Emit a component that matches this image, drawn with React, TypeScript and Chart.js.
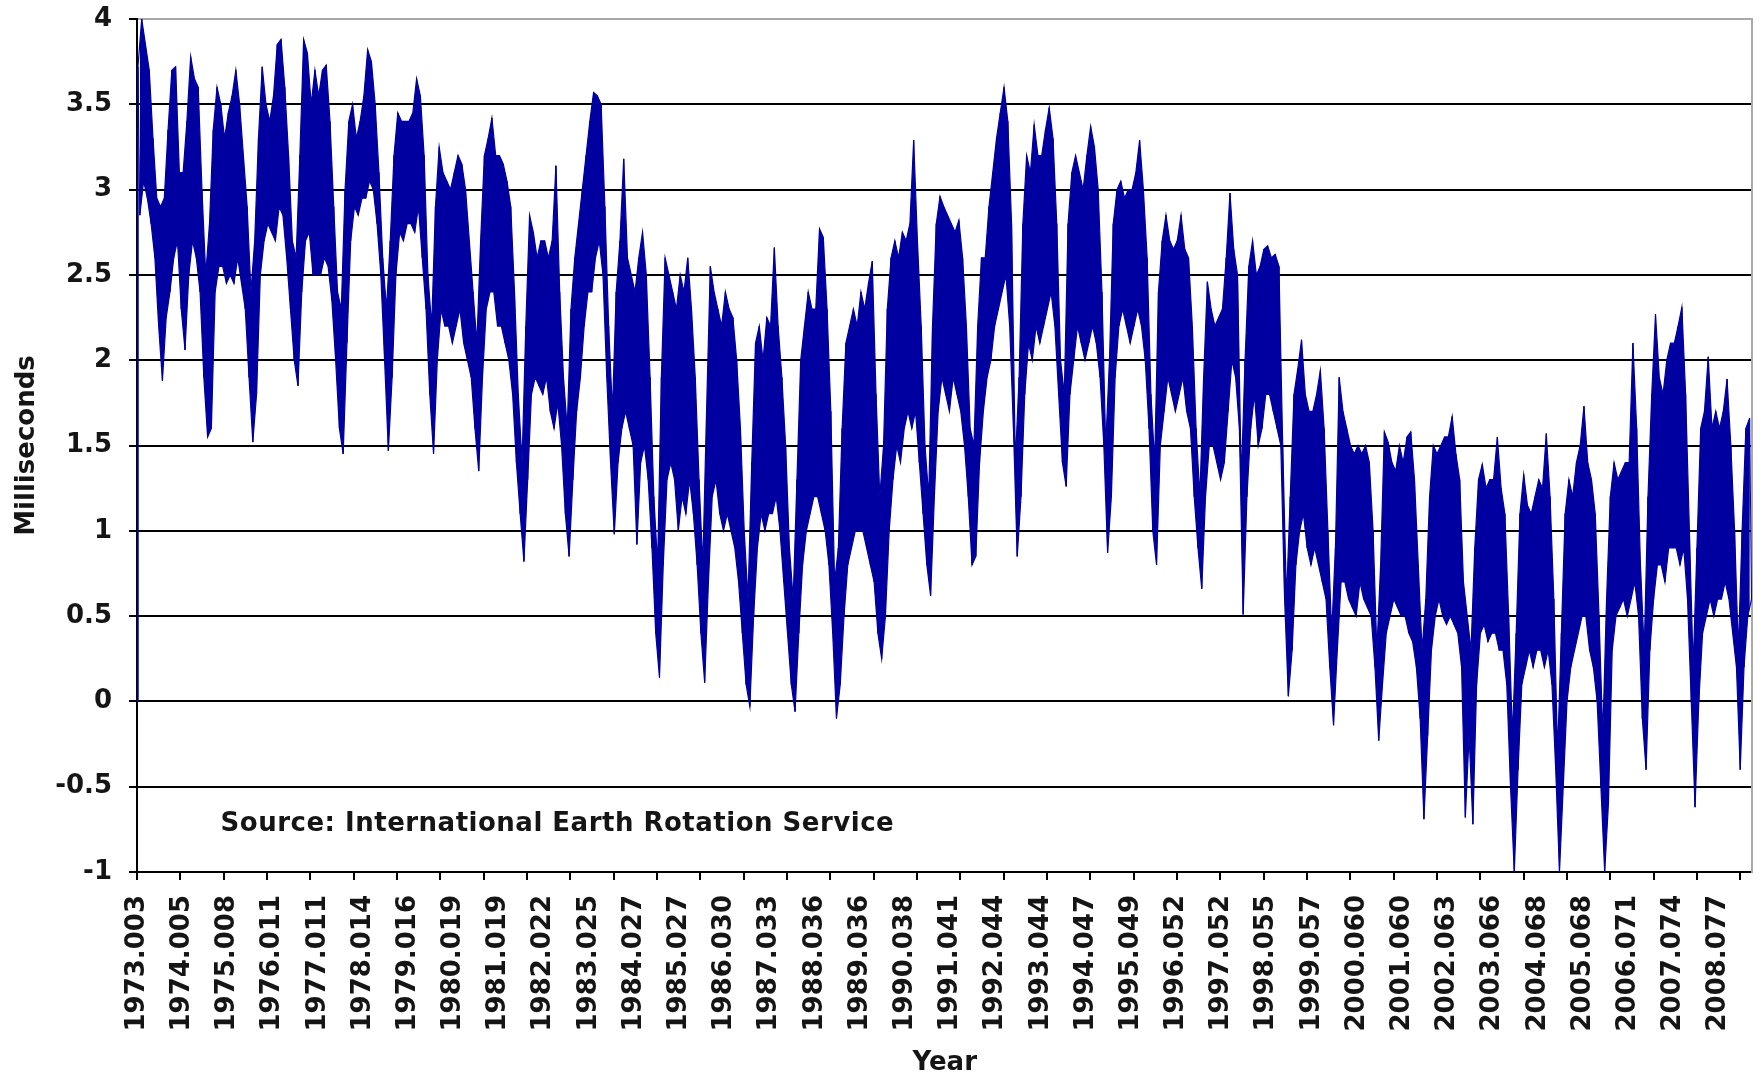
import { useEffect, useRef } from 'react';
import { Chart, registerables } from 'chart.js';

Chart.register(...registerables);

// Tick labels of the category-style x axis (one per label interval)
const tickLabels = [
  '1973.003', '1974.005', '1975.008', '1976.011', '1977.011', '1978.014', '1979.016',
  '1980.019', '1981.019', '1982.022', '1983.025', '1984.027', '1985.027', '1986.030',
  '1987.033', '1988.036', '1989.036', '1990.038', '1991.041', '1992.044', '1993.044',
  '1994.047', '1995.049', '1996.052', '1997.052', '1998.055', '1999.057', '2000.060',
  '2001.060', '2002.063', '2003.066', '2004.068', '2005.068', '2006.071', '2007.074',
  '2008.077',
];

// Excess length of day (ms). Alternating the upper and
// lower edge of the band, 24 readings per label interval.
const firstValue = 0;
const y1973 = [3.72, 2.85, 4.0, 3.05, 3.85, 2.95, 3.7, 2.8, 3.3, 2.6, 2.95, 2.2, 2.9, 1.88, 2.95, 2.25, 3.35, 2.4, 3.7, 2.6, 3.72, 2.7, 3.1, 2.3];
const y1974 = [3.1, 2.06, 3.4, 2.5, 3.78, 2.7, 3.65, 2.6, 3.6, 2.4, 3.0, 1.9, 2.5, 1.55, 2.8, 1.6, 3.35, 2.4, 3.6, 2.55, 3.5, 2.55, 3.3, 2.45];
const y1975 = [3.45, 2.5, 3.55, 2.45, 3.7, 2.6, 3.5, 2.45, 3.2, 2.3, 2.9, 1.9, 2.4, 1.52, 2.7, 1.8, 3.3, 2.5, 3.72, 2.7, 3.5, 2.8, 3.4, 2.75];
const y1976 = [3.55, 2.7, 3.85, 2.9, 3.88, 2.85, 3.6, 2.6, 3.2, 2.3, 2.7, 2.0, 2.6, 1.85, 3.2, 2.4, 3.88, 2.7, 3.8, 2.75, 3.5, 2.5, 3.7, 2.5];
const y1977 = [3.55, 2.5, 3.7, 2.6, 3.73, 2.55, 3.4, 2.35, 2.9, 2.0, 2.4, 1.6, 2.3, 1.45, 3.0, 2.1, 3.4, 2.7, 3.5, 2.9, 3.3, 2.85, 3.4, 2.95];
const y1978 = [3.55, 2.95, 3.82, 3.05, 3.75, 3.0, 3.5, 2.8, 3.1, 2.5, 2.6, 2.0, 2.3, 1.47, 2.7, 1.9, 3.2, 2.5, 3.45, 2.75, 3.4, 2.7, 3.4, 2.8];
const y1979 = [3.4, 2.8, 3.45, 2.75, 3.65, 2.9, 3.55, 2.6, 3.2, 2.3, 2.5, 1.8, 2.2, 1.45, 2.9, 2.0, 3.25, 2.3, 3.1, 2.2, 3.05, 2.2, 3.0, 2.1];
const y1980 = [3.1, 2.2, 3.2, 2.3, 3.15, 2.1, 3.0, 2.0, 2.7, 1.9, 2.4, 1.6, 2.1, 1.35, 2.7, 1.9, 3.2, 2.3, 3.3, 2.4, 3.42, 2.4, 3.2, 2.2];
const y1981 = [3.2, 2.2, 3.15, 2.1, 3.05, 2.0, 2.9, 1.8, 2.4, 1.4, 1.8, 1.1, 1.4, 0.82, 2.2, 1.3, 2.85, 1.8, 2.75, 1.9, 2.6, 1.85, 2.7, 1.8];
const y1982 = [2.7, 1.9, 2.6, 1.7, 2.7, 1.6, 3.14, 1.75, 2.4, 1.5, 1.9, 1.1, 1.6, 0.85, 2.3, 1.3, 2.6, 1.7, 2.8, 1.9, 3.0, 2.2, 3.2, 2.4];
const y1983 = [3.4, 2.4, 3.57, 2.6, 3.55, 2.7, 3.5, 2.5, 2.9, 1.9, 2.2, 1.4, 1.7, 0.98, 2.4, 1.4, 2.7, 1.6, 3.18, 1.7, 2.6, 1.6, 2.5, 1.5];
const y1984 = [2.4, 0.92, 2.6, 1.4, 2.75, 1.5, 2.5, 1.3, 1.9, 0.9, 1.2, 0.4, 0.8, 0.14, 1.9, 0.8, 2.6, 1.3, 2.5, 1.4, 2.4, 1.3, 2.3, 1.0];
const y1985 = [2.5, 1.2, 2.4, 1.1, 2.6, 1.3, 2.3, 1.1, 1.9, 0.8, 1.3, 0.4, 0.8, 0.11, 1.7, 0.7, 2.55, 1.2, 2.4, 1.3, 2.3, 1.1, 2.2, 1.0];
const y1986 = [2.4, 1.1, 2.3, 1.0, 2.25, 0.9, 2.0, 0.7, 1.6, 0.4, 1.0, 0.1, 0.6, -0.03, 1.4, 0.5, 2.1, 0.9, 2.2, 1.1, 2.0, 1.0, 2.25, 1.1];
const y1987 = [2.2, 1.1, 2.66, 1.2, 2.2, 1.0, 1.9, 0.7, 1.5, 0.4, 0.9, 0.1, 0.6, -0.06, 1.3, 0.4, 2.0, 0.8, 2.2, 1.0, 2.4, 1.1, 2.3, 1.2];
const y1988 = [2.3, 1.2, 2.77, 1.1, 2.72, 1.0, 2.3, 0.8, 1.7, 0.4, 0.7, -0.1, 0.9, 0.1, 1.6, 0.5, 2.1, 0.8, 2.2, 0.9, 2.3, 1.0, 2.2, 1.0];
const y1989 = [2.4, 1.0, 2.3, 0.9, 2.45, 0.8, 2.58, 0.7, 1.8, 0.4, 1.2, 0.25, 1.5, 0.5, 2.3, 1.0, 2.6, 1.3, 2.7, 1.5, 2.6, 1.4, 2.75, 1.6];
const y1990 = [2.7, 1.7, 2.8, 1.6, 3.29, 1.7, 2.7, 1.4, 2.2, 1.1, 1.5, 0.8, 1.2, 0.62, 2.2, 1.2, 2.8, 1.7, 2.96, 1.9, 2.9, 1.8, 2.85, 1.7];
const y1991 = [2.8, 1.9, 2.75, 1.8, 2.82, 1.7, 2.6, 1.5, 2.2, 1.2, 1.6, 0.8, 1.5, 0.85, 2.2, 1.4, 2.6, 1.7, 2.6, 1.9, 2.9, 2.0, 3.1, 2.2];
const y1992 = [3.3, 2.3, 3.45, 2.4, 3.6, 2.5, 3.4, 2.2, 2.8, 1.6, 1.4, 0.85, 1.9, 1.2, 2.8, 1.8, 3.2, 2.1, 3.1, 2.0, 3.38, 2.2, 3.2, 2.1];
const y1993 = [3.2, 2.2, 3.35, 2.3, 3.48, 2.4, 3.3, 2.2, 2.8, 1.8, 2.0, 1.4, 1.8, 1.26, 2.8, 1.8, 3.1, 2.0, 3.2, 2.2, 3.1, 2.1, 3.0, 2.0];
const y1994 = [3.2, 2.1, 3.37, 2.2, 3.25, 2.1, 3.0, 1.9, 2.4, 1.5, 1.5, 0.87, 2.0, 1.2, 2.8, 1.9, 3.0, 2.2, 3.05, 2.3, 2.95, 2.2, 3.0, 2.1];
const y1995 = [3.0, 2.2, 3.1, 2.3, 3.29, 2.2, 3.0, 2.0, 2.6, 1.6, 1.8, 1.0, 1.4, 0.8, 2.4, 1.5, 2.7, 1.7, 2.85, 1.9, 2.7, 1.8, 2.65, 1.7];
const y1996 = [2.7, 1.8, 2.85, 1.9, 2.65, 1.7, 2.6, 1.6, 2.2, 1.2, 1.6, 0.9, 1.2, 0.66, 1.9, 1.2, 2.46, 1.5, 2.3, 1.5, 2.2, 1.4, 2.25, 1.3];
const y1997 = [2.3, 1.4, 2.6, 1.7, 2.98, 2.0, 2.65, 1.9, 2.5, 1.6, 1.3, 0.51, 2.0, 1.2, 2.55, 1.6, 2.7, 1.8, 2.5, 1.5, 2.55, 1.6, 2.65, 1.8];
const y1998 = [2.67, 1.8, 2.6, 1.7, 2.62, 1.6, 2.55, 1.5, 1.5, 0.6, 0.6, 0.03, 1.2, 0.3, 1.8, 0.8, 1.95, 1.0, 2.12, 1.1, 1.8, 0.9, 1.7, 0.8];
const y1999 = [1.7, 0.9, 1.8, 0.8, 1.94, 0.7, 1.6, 0.6, 1.0, 0.2, 0.4, -0.14, 0.9, 0.3, 1.9, 0.7, 1.7, 0.7, 1.6, 0.6, 1.5, 0.55, 1.45, 0.5];
const y2000 = [1.5, 0.7, 1.45, 0.6, 1.5, 0.55, 1.4, 0.5, 1.0, 0.2, 0.3, -0.23, 0.8, 0.1, 1.58, 0.4, 1.52, 0.5, 1.4, 0.6, 1.35, 0.55, 1.5, 0.5];
const y2001 = [1.4, 0.5, 1.55, 0.4, 1.58, 0.35, 1.3, 0.2, 0.8, -0.1, 0.3, -0.69, 0.6, -0.2, 1.2, 0.3, 1.5, 0.5, 1.45, 0.6, 1.5, 0.5, 1.55, 0.45];
const y2002 = [1.55, 0.5, 1.67, 0.45, 1.45, 0.4, 1.3, 0.2, 0.7, -0.68, 0.5, -0.2, 0.3, -0.72, 0.9, 0.1, 1.3, 0.4, 1.39, 0.45, 1.25, 0.35, 1.3, 0.4];
const y2003 = [1.3, 0.4, 1.55, 0.3, 1.25, 0.3, 1.1, 0.1, 0.5, -0.5, -0.2, -1.0, 0.4, -0.4, 1.1, 0.1, 1.33, 0.2, 1.15, 0.3, 1.1, 0.2, 1.2, 0.3];
const y2004 = [1.3, 0.3, 1.25, 0.2, 1.57, 0.3, 1.2, 0.1, 0.6, -0.4, -0.3, -1.0, 0.4, -0.5, 1.1, 0.0, 1.3, 0.2, 1.2, 0.3, 1.4, 0.4, 1.5, 0.5];
const y2005 = [1.73, 0.5, 1.4, 0.3, 1.3, 0.2, 1.1, 0.0, 0.5, -0.5, -0.2, -1.0, 0.6, -0.6, 1.2, 0.3, 1.4, 0.5, 1.3, 0.55, 1.35, 0.6, 1.4, 0.5];
const y2006 = [1.4, 0.6, 2.1, 0.7, 1.6, 0.5, 0.8, -0.1, 0.3, -0.4, 1.2, 0.3, 1.8, 0.6, 2.27, 0.8, 1.9, 0.8, 1.8, 0.7, 2.0, 0.9, 2.1, 0.9];
const y2007 = [2.1, 0.9, 2.2, 0.8, 2.31, 0.9, 1.8, 0.6, 1.0, 0.0, 0.2, -0.62, 0.9, 0.0, 1.6, 0.4, 1.7, 0.5, 2.02, 0.6, 1.6, 0.5, 1.7, 0.6];
const y2008 = [1.6, 0.6, 1.7, 0.7, 1.89, 0.6, 1.5, 0.4, 1.0, 0.2, 0.3, -0.4, 1.0, 0.2, 1.6, 0.5, 1.66, 0.6];

const yearSeries = [
  y1973, y1974, y1975, y1976, y1977, y1978, y1979, y1980, y1981, y1982, y1983, y1984,
  y1985, y1986, y1987, y1988, y1989, y1990, y1991, y1992, y1993, y1994, y1995, y1996,
  y1997, y1998, y1999, y2000, y2001, y2002, y2003, y2004, y2005, y2006, y2007, y2008,
];

const pointsPerInterval = 24;
const xMax = 35.75; // axis extent, in label intervals
const tickMarkStep = 0.9589; // tick marks are a little closer together than the labels
const sourceText = 'Source: International Earth Rotation Service';
const sourceAt = { x: 1.85, y: -0.72 };

const FONT_FAMILY = '"DejaVu Sans", Verdana, sans-serif';
const TEXT_COLOR = '#151515';
const SERIES_COLOR = '#0000a0';

export default function App() {
  const canvasRef = useRef<HTMLCanvasElement | null>(null);

  useEffect(() => {
    const canvas = canvasRef.current;
    if (!canvas) return;

    // Upper edge readings (even positions) and lower edge readings (odd positions)
    const upper: { x: number; y: number }[] = [{ x: 0, y: firstValue }];
    const lower: { x: number; y: number }[] = [];
    const zigzag: { x: number; y: number }[] = [{ x: 0, y: firstValue }];
    yearSeries.forEach((arr, k) => {
      arr.forEach((v, j) => {
        const p = { x: k + (j + 0.5) / pointsPerInterval, y: v };
        (j % 2 === 0 ? upper : lower).push(p);
        zigzag.push(p);
      });
    });

    const font = { family: FONT_FAMILY, size: 26, weight: 'bold' as const };

    const sourcePlugin = {
      id: 'sourceNote',
      afterDatasetsDraw(chart: any) {
        const { ctx, scales } = chart;
        ctx.save();
        ctx.font = `bold 26px ${FONT_FAMILY}`;
        ctx.fillStyle = TEXT_COLOR;
        ctx.textAlign = 'left';
        ctx.textBaseline = 'middle';
        try {
          (ctx as any).letterSpacing = '0.5px';
        } catch (e) {
          /* ignore */
        }
        ctx.fillText(
          sourceText,
          scales.x.getPixelForValue(sourceAt.x),
          scales.y.getPixelForValue(sourceAt.y)
        );
        ctx.restore();
      },
    };

    const noPad = (s: any) => {
      s.paddingTop = 0;
      s.paddingBottom = 0;
    };

    const chart = new Chart(canvas, {
      type: 'line',
      data: {
        datasets: [
          {
            label: 'upper',
            data: upper,
            borderColor: SERIES_COLOR,
            borderWidth: 1.2,
            pointRadius: 0,
            tension: 0,
            fill: false,
            xAxisID: 'x',
            yAxisID: 'y',
          },
          {
            label: 'lower',
            data: lower,
            borderColor: SERIES_COLOR,
            backgroundColor: SERIES_COLOR,
            borderWidth: 1.2,
            pointRadius: 0,
            tension: 0,
            fill: '-1',
            xAxisID: 'x',
            yAxisID: 'y',
          },
          {
            label: 'daily',
            data: zigzag,
            borderColor: SERIES_COLOR,
            borderWidth: 1,
            pointRadius: 0,
            tension: 0,
            fill: false,
            xAxisID: 'x',
            yAxisID: 'y',
          },
        ],
      },
      options: {
        animation: false,
        responsive: false,
        maintainAspectRatio: false,
        parsing: false,
        layout: { padding: { left: 0, top: 19, right: 0, bottom: 0 } },
        plugins: {
          legend: { display: false },
          tooltip: { enabled: false },
          title: { display: false },
        },
        scales: {
          x: {
            type: 'linear',
            position: 'bottom',
            weight: 1,
            min: 0,
            max: xMax,
            afterBuildTicks: (s: any) => {
              s.ticks = tickLabels.map((_, i) => ({ value: i }));
            },
            afterFit: (s: any) => {
              s.height = 196;
            },
            ticks: {
              autoSkip: false,
              minRotation: 90,
              maxRotation: 90,
              padding: 13,
              color: TEXT_COLOR,
              font,
              callback: (_v: any, i: number) => tickLabels[i] ?? '',
            },
            grid: { display: false, drawTicks: false },
            border: { display: false },
            title: {
              display: true,
              text: 'Year',
              color: TEXT_COLOR,
              font,
              padding: { top: 0, bottom: -1 },
            },
          },
          xt: {
            type: 'linear',
            position: 'bottom',
            weight: 0,
            min: 0,
            max: xMax,
            afterBuildTicks: (s: any) => {
              const t: { value: number }[] = [];
              for (let v = 0; v <= xMax; v += tickMarkStep) t.push({ value: v });
              s.ticks = t;
            },
            afterFit: (s: any) => {
              s.height = 10;
            },
            ticks: { display: false },
            grid: {
              display: true,
              drawOnChartArea: false,
              drawTicks: true,
              tickLength: 8,
              color: '#000',
              lineWidth: 2,
            },
            border: { display: true, color: '#000', width: 2 },
          },
          y: {
            type: 'linear',
            position: 'left',
            min: -1,
            max: 4,
            afterFit: (s: any) => {
              s.width = 137;
              noPad(s);
            },
            ticks: {
              stepSize: 0.5,
              padding: 17,
              color: TEXT_COLOR,
              font,
              callback: (v: any) => String(v),
            },
            grid: {
              color: (ctx: any) => (ctx.tick && ctx.tick.value === 4 ? '#a9a9a9' : '#000'),
              lineWidth: 2,
              tickLength: 8,
              tickColor: '#000',
            },
            border: { display: true, color: '#000', width: 2 },
            title: {
              display: true,
              text: 'Milliseconds',
              color: TEXT_COLOR,
              font,
              padding: { top: 12, bottom: 0 },
            },
          },
          yr: {
            type: 'linear',
            position: 'right',
            min: -1,
            max: 4,
            afterFit: (s: any) => {
              s.width = 2;
              noPad(s);
            },
            ticks: { display: false },
            grid: { display: false, drawTicks: false },
            border: { display: true, color: '#a9a9a9', width: 2 },
          },
        },
      } as any,
      plugins: [sourcePlugin],
    });

    return () => {
      chart.destroy();
    };
  }, []);

  return (
    <div
      style={{
        position: 'absolute',
        left: 0,
        top: 0,
        width: 1763,
        height: 1078,
        background: '#fff',
      }}
    >
      <canvas
        ref={canvasRef}
        width={1763}
        height={1078}
        style={{ display: 'block', width: 1763, height: 1078 }}
      />
    </div>
  );
}
